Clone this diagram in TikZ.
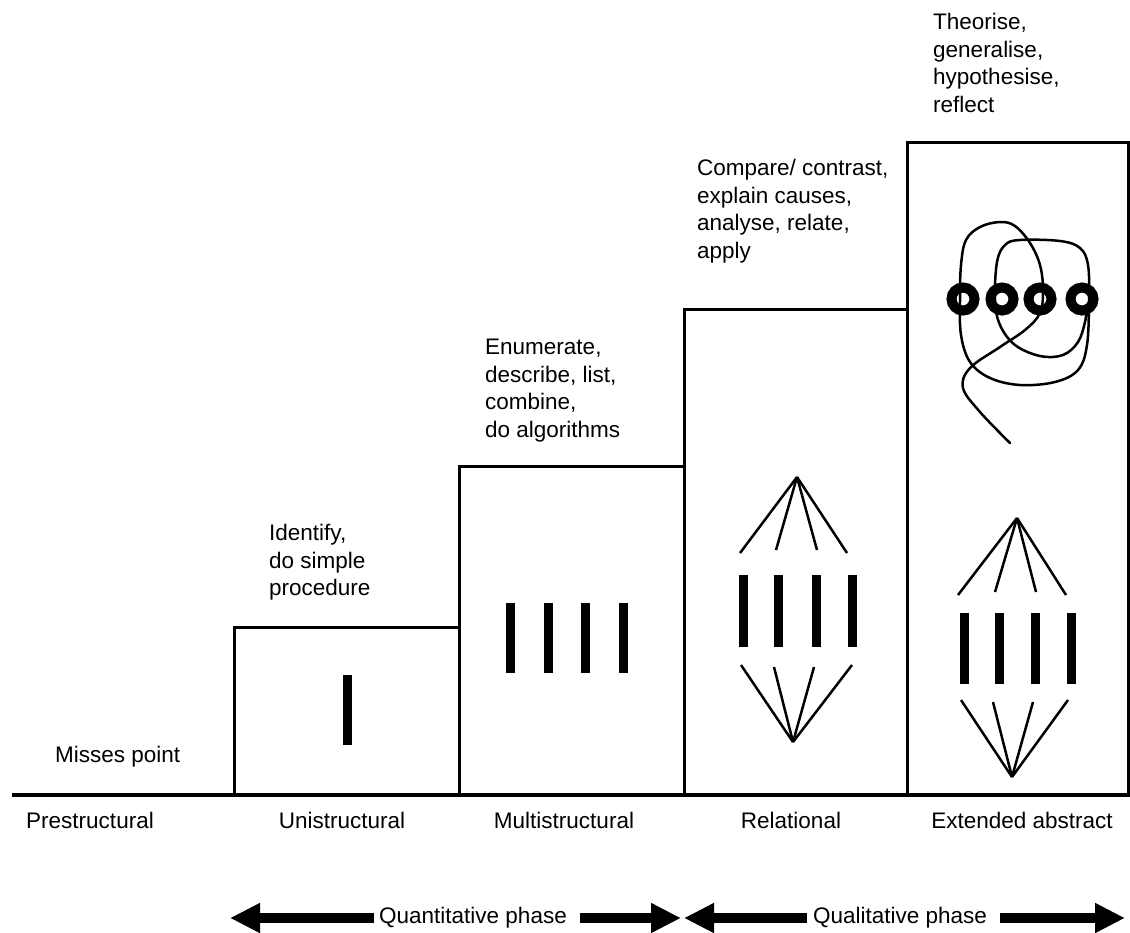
\documentclass[tikz,border=0pt]{standalone}
\usepackage{fontspec}
\setmainfont{Liberation Sans}
\usetikzlibrary{arrows.meta}

\begin{document}
\begin{tikzpicture}[
    x=1pt,y=-1pt,
    every node/.style={inner sep=0, font=\fontsize{22.5}{27.5}\selectfont},
    box/.style={line width=3pt},
    fan/.style={line width=2.5pt},
    scribble/.style={line width=2.5pt, line cap=round},
    verbs/.style={anchor=north west, align=left},
    level/.style={anchor=base},
    phase/.style={line width=10pt, -{Triangle[length=30pt,width=28pt]}}
    ]
    \useasboundingbox (0,0) rectangle (1130,932);
    % steps
    \draw[box] (234,795) rectangle (459,627);
    \draw[box] (459,795) rectangle (684,466);
    \draw[box] (684,795) rectangle (907,309);
    \draw[box] (907,795) rectangle (1128,142);
    \draw[line width=4.5pt] (12,795) -- (1130,795);
    % bars
    \fill (342.5,675) rectangle (351.5,745);
    \foreach \x in {510,548,585,623}
      \fill (\x-4.5,603) rectangle (\x+4.5,673);
    \foreach \x in {743,778,816,852}
      \fill (\x-4.5,575) rectangle (\x+4.5,647);
    \foreach \x in {964,999,1035,1071}
      \fill (\x-4.5,613) rectangle (\x+4.5,684);
    % fans
    \coordinate (relTop) at (797,477);
    \coordinate (relBot) at (793,742);
    \coordinate (extTop) at (1017,518);
    \coordinate (extBot) at (1012,777);
    \foreach \x/\y in {740/553,776/550,817/550,847/553}
      \draw[fan] (relTop) -- (\x,\y);
    \foreach \x/\y in {741/665,774/667,814/667,852/665}
      \draw[fan] (relBot) -- (\x,\y);
    \foreach \x/\y in {958/595,995/592,1036/592,1066/595}
      \draw[fan] (extTop) -- (\x,\y);
    \foreach \x/\y in {961/700,993/702,1033/702,1068/700}
      \draw[fan] (extBot) -- (\x,\y);
    % loops
    \draw[scribble] plot[smooth, tension=0.6] coordinates {
      (1010,443) (980,412) (963,388) (970,368) (1000,347) (1025,330)
      (1040,313) (1043,290) (1040,265) (1030,243) (1015,226) (1000,222)
      (980,227) (966,240) (961,265) (960,300) (961,335) (970,362)
      (990,378) (1020,385) (1055,382) (1078,370) (1087,345) (1089,300)
      (1088,265) (1080,248) (1060,241) (1020,240) (1005,245) (997,262)
      (995,300) (1000,325) (1015,345) (1040,356) (1063,355) (1078,342)
      (1085,322) (1087,305)};
    \foreach \x in {963,1002,1040,1082}
      \draw[line width=10pt] (\x,299) circle[radius=11.5];
    % texts
    \node[anchor=base west] (vPre) at (55,762) {Misses point};
    \node[verbs] (vUni) at (269,524) {Identify,\\do simple\\procedure};
    \node[verbs] (vMulti) at (485,339) {Enumerate,\\describe, list,\\combine,\\do algorithms};
    \node[verbs] (vRel) at (697,159) {Compare/ contrast,\\explain causes,\\analyse, relate,\\apply};
    \node[verbs] (vExt) at (933,13) {Theorise,\\generalise,\\hypothesise,\\reflect};
    \node[level] (nPre) at (90,828) {Prestructural};
    \node[level] (nUni) at (342,828) {Unistructural};
    \node[level] (nMulti) at (564,828) {Multistructural};
    \node[level] (nRel) at (791,828) {Relational};
    \node[level] (nExt) at (1022,828) {Extended abstract};
    % phases
    \node (qn) at (473,918) {Quantitative phase};
    \node (ql) at (900,918) {Qualitative phase};
    \coordinate (qnL) at (230,918);
    \coordinate (qnR) at (681,918);
    \coordinate (qlL) at (684,918);
    \coordinate (qlR) at (1125,918);
    \draw[phase] ([xshift=-5pt]qn.west) -- (qnL);
    \draw[phase] ([xshift=13pt]qn.east) -- (qnR);
    \draw[phase] ([xshift=-6pt]ql.west) -- (qlL);
    \draw[phase] ([xshift=13pt]ql.east) -- (qlR);
  \end{tikzpicture}
\end{document}
